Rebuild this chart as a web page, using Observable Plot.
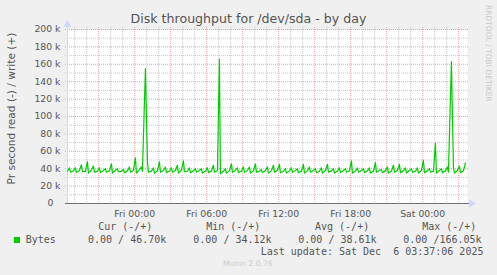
<!DOCTYPE html>
<html><head><meta charset="utf-8">
<script src="https://cdn.jsdelivr.net/npm/d3@7"></script>
<script src="https://cdn.jsdelivr.net/npm/@observablehq/plot@0.6"></script>
<style>
html,body{margin:0;padding:0;background:#F0F0F0;}
#chart{position:relative;width:497px;height:275px;overflow:hidden;}
</style></head><body><div id="chart"></div>
<script>
// ---- text ----
const titleText = "Disk throughput for /dev/sda - by day";
const yLabelText = "Pr second read (-) / write (+)";
const sideText = "RRDTOOL / TOBI OETIKER";
const footerText = "Munin 2.0.76";
const legendHeaders = ["Cur (-/+)", "Min (-/+)", "Avg (-/+)", "Max (-/+)"];
const legendSeries = "Bytes";
const legendValues = ["0.00 / 46.70k", "0.00 / 34.12k", "0.00 / 38.61k", "0.00 /166.05k"];
const lastUpdate = "Last update: Sat Dec  6 03:37:06 2025";

// ---- time axis (hours relative to Fri 2025-12-05 00:00) ----
const domainHours = [-5.6, 27.733];
const xTickHours = [0, 6, 12, 18, 24];
const yTicks = [20000, 40000, 60000, 80000, 100000, 120000, 140000, 160000, 180000, 200000];

// ---- series (k bytes/s), one write burst every 30 minutes ----
const firstPeakHour = -5.44;
const startValue = 37;
const peaks = [41,41,44.5,48,43,41,40,45.5,40,39,42,52.5,42,48,41,48,42,41,44,49,41,40,40,41,44,166.05,40,45.5,41,42,42,45.5,39,42,44,45,40,41,40,45,42,40,41,45,40,41,40,49,41,40,41,47,39,42,44,45,41,40,41,49.5,40,69,40,42,42,43,46.7];
const lows  = [36,35.5,36.5,35,36,35.5,36,35,36.5,35.5,36,35,37,36,35,36,35.5,36,35,36.5,35.5,36,35,35.5,36,34.12,35,36,35.5,36,35,36,35.5,35,36,35.5,35,36,35.5,35,36,35.5,35,36,35,35.5,36,35,36,35.5,35,36,35.5,35,36,35.5,35,36,35,35.5,36,35,35.5,36,35,35.5];
const mids  = [37.5,38,37,38.5,37,38,37.5,38,37,37.5,38,39,155,37,37.5,38,37,38,38.5,37,37.5,38,37,37.5,38,37,37.5,38,37,38,37.5,37,38,37.5,38,37,37.5,38,37,37.5,38,37,38,37.5,37,38,37.5,37,38,37.5,37,38,37.5,37,38,37.5,38,37,38,37.5,37,38,37.5,163,38,37.5];

const FRI = Date.UTC(2025, 11, 5, 0, 0);
const toDate = h => new Date(FRI + h * 3600e3);

const pts = [{t: toDate(domainHours[0]), v: startValue * 1000}];
peaks.forEach((p, i) => {
  const h = firstPeakHour + i * 0.5;
  pts.push({t: toDate(h), v: p * 1000});
  if (i < peaks.length - 1) {
    pts.push({t: toDate(h + 1/12), v: lows[i] * 1000});
    pts.push({t: toDate(h + 1/3), v: mids[i] * 1000});
  }
});

const minorX = d3.range(-5, 28).filter(h => h % 3 !== 0).map(toDate);
const majorX = d3.range(-3, 28, 3).map(toDate);
const minorY = d3.range(10000, 200001, 20000);
const majorY = d3.range(20000, 200001, 20000);

const gridMinor = "#C8C8C8", gridMajor = "#EBA0A0";
const axisFont = {fontFamily: "DejaVu Sans", fontSize: "9.3px"};

const plot = Plot.plot({
  width: 497, height: 275,
  marginLeft: 67, marginRight: 30, marginTop: 29, marginBottom: 72,
  style: {background: "#F0F0F0", color: "#555", ...axisFont},
  x: {type: "utc", domain: domainHours.map(toDate), label: null},
  y: {domain: [0, 200000], label: null},
  marks: [
    Plot.frame({fill: "white", stroke: null}),
    Plot.ruleX(minorX, {stroke: gridMinor, strokeDasharray: "1,1", insetTop: -2, insetBottom: -2}),
    Plot.ruleY(minorY, {stroke: gridMinor, strokeDasharray: "1,1", insetLeft: -2, insetRight: -2}),
    Plot.ruleX(majorX, {stroke: gridMajor, strokeDasharray: "1,1", insetTop: -2, insetBottom: -2}),
    Plot.ruleY(majorY, {stroke: gridMajor, strokeDasharray: "1,1", insetLeft: -2, insetRight: -2}),
    Plot.ruleX([toDate(domainHours[0])], {stroke: "#CFD6F8", insetTop: -5}),
    Plot.line(pts, {x: "t", y: "v", stroke: "#00CC00", strokeWidth: 1.2}),
    Plot.ruleY([0], {stroke: "#707070", insetLeft: -2, insetRight: -2}),
    Plot.dot([0], {x: () => toDate(domainHours[0]), y: () => 200000, symbol: "triangle", r: 3, dy: -5, fill: "#CFD6F8", stroke: null}),
    Plot.dot([0], {x: () => toDate(domainHours[1]), y: () => 0, symbol: "triangle", r: 3, dx: 4, rotate: 90, fill: "#CFD6F8", stroke: null}),
    Plot.axisY({ticks: yTicks, tickFormat: d => d / 1000 + " k", tickSize: 0, tickPadding: 7, label: null, ...axisFont, fill: "#555"}),
    Plot.axisY({ticks: [0], tickFormat: () => "0", tickSize: 0, tickPadding: 14, label: null, ...axisFont, fill: "#555"}),
    Plot.axisX({ticks: xTickHours.map(toDate), tickFormat: d3.utcFormat("%a %H:%M"), tickSize: 0, tickPadding: 6.5, label: null, ...axisFont, fill: "#555"})
  ]
});

const svg = d3.select(plot);
svg.append("text").attr("x", 248.5).attr("y", 23.3).attr("text-anchor", "middle")
  .attr("font-family", "DejaVu Sans").attr("font-size", 12.6).attr("fill", "#555").text(titleText);
svg.append("text").attr("transform", "translate(15.3,108.5) rotate(-90)").attr("text-anchor", "middle")
  .attr("font-family", "DejaVu Sans").attr("font-size", 10.6).attr("fill", "#555").text(yLabelText);
svg.append("text").attr("transform", "translate(485.5,53.3) rotate(90)").attr("text-anchor", "middle")
  .attr("font-family", "DejaVu Sans").attr("font-size", 7.5).attr("fill", "#C8C8C8").text(sideText);
svg.append("text").attr("x", 223).attr("y", 266).attr("text-anchor", "start").attr("font-family", "DejaVu Sans")
  .attr("font-size", 7.6).attr("fill", "#CCCCCC").text(footerText);

const mono = g => g.attr("font-family", "DejaVu Sans Mono").attr("font-size", 10).attr("fill", "#555")
  .attr("text-anchor", "start").style("white-space", "pre");
const headerX = [98.2, 206.2, 315, 422.2];
const valueX = [88, 193.3, 298.3, 403.3];
legendHeaders.forEach((t, i) => mono(svg.append("text")).attr("x", headerX[i]).attr("y", 230).text(t));
legendValues.forEach((t, i) => mono(svg.append("text")).attr("x", valueX[i]).attr("y", 242.7).text(t));
mono(svg.append("text")).attr("x", 25.7).attr("y", 242.7).text(legendSeries);
mono(svg.append("text")).attr("x", 260.7).attr("y", 254.5).text(lastUpdate);
svg.append("rect").attr("x", 14).attr("y", 237).attr("width", 6).attr("height", 6).attr("fill", "#00CC00");

document.getElementById("chart").appendChild(plot);
</script>
</body></html>
